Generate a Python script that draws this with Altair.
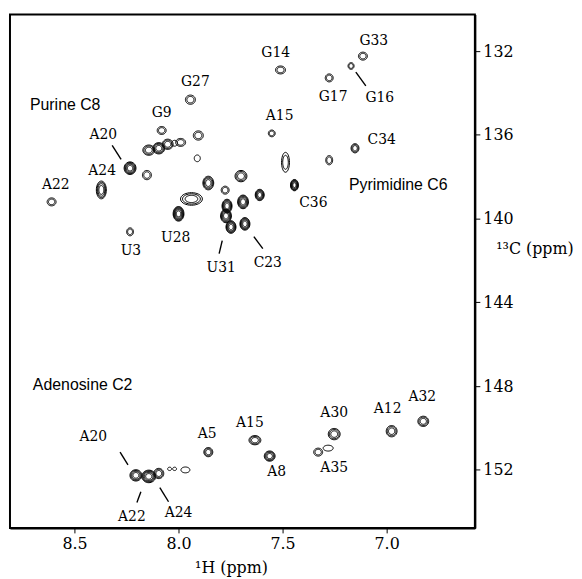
import math
import altair as alt
import pandas as pd

# ---------------- data ----------------
# cross peaks: 1H shift (ppm), 13C shift (ppm), number of contour levels,
# linewidths along 1H and 13C (ppm)
peak_h = [7.510, 7.943, 8.081, 8.143, 8.095, 8.052, 8.019, 7.990, 7.905, 7.910,
          8.233, 8.152, 8.371, 8.610, 8.233, 8.000, 7.938, 7.857, 7.776, 7.700,
          7.690, 7.610, 7.767, 7.772, 7.748, 7.681, 7.552, 7.486, 7.443, 7.114,
          7.171, 7.276, 7.152, 7.276,
          8.205, 8.143, 8.095, 8.043, 8.019, 7.967, 7.857, 7.633, 7.562, 7.252,
          7.329, 7.281, 6.976, 6.824]
peak_c = [132.90, 134.32, 135.79, 136.73, 136.64, 136.45, 136.40, 136.36, 136.03, 137.12,
          137.59, 137.92, 138.63, 139.20, 140.63, 139.77, 139.06, 138.30, 138.64, 137.97,
          139.20, 138.87, 139.40, 139.87, 140.40, 140.25, 135.93, 137.31, 138.40, 132.24,
          132.71, 133.28, 136.64, 137.21,
          152.26, 152.31, 152.17, 151.95, 151.95, 152.00, 151.15, 150.58, 151.34, 150.29,
          151.15, 150.96, 150.15, 149.68]
peak_levels = [2, 2, 2, 3, 4, 3, 1, 2, 2, 1,
               5, 2, 4, 2, 2, 6, 3, 4, 2, 3,
               5, 5, 5, 5, 5, 5, 2, 2, 6, 2,
               2, 2, 3, 2,
               4, 5, 3, 1, 1, 1, 3, 3, 4, 3,
               2, 1, 3, 3]
peak_wh = [0.048, 0.048, 0.043, 0.057, 0.057, 0.052, 0.029, 0.048, 0.048, 0.029,
           0.057, 0.043, 0.048, 0.043, 0.033, 0.052, 0.105, 0.052, 0.038, 0.057,
           0.052, 0.043, 0.048, 0.052, 0.048, 0.048, 0.033, 0.038, 0.038, 0.043,
           0.029, 0.038, 0.038, 0.033,
           0.057, 0.067, 0.048, 0.019, 0.019, 0.043, 0.043, 0.057, 0.052, 0.057,
           0.043, 0.048, 0.052, 0.052]
peak_wc = [0.38, 0.44, 0.38, 0.49, 0.54, 0.49, 0.28, 0.38, 0.44, 0.32,
           0.60, 0.44, 0.85, 0.38, 0.38, 0.70, 0.60, 0.65, 0.38, 0.54,
           0.65, 0.54, 0.65, 0.65, 0.60, 0.60, 0.32, 0.95, 0.54, 0.38,
           0.32, 0.38, 0.44, 0.44,
           0.54, 0.60, 0.49, 0.16, 0.16, 0.28, 0.44, 0.44, 0.49, 0.54,
           0.38, 0.28, 0.54, 0.49]

# residue assignments
label_text = ["G14", "G27", "G9", "A15", "A20", "A24", "A22", "U28", "U3", "U31", "C23",
              "G33", "G17", "G16", "C34", "C36",
              "A20", "A22", "A24", "A5", "A15", "A8", "A30", "A35", "A12", "A32"]
label_h = [7.533, 7.919, 8.081, 7.514, 8.362, 8.367, 8.590, 8.014, 8.229, 7.795, 7.571,
           7.062, 7.257, 7.033, 7.024, 7.352,
           8.410, 8.224, 8.000, 7.862, 7.657, 7.529, 7.252, 7.252, 6.995, 6.829]
label_c = [132.09, 133.47, 134.94, 135.08, 136.03, 137.73, 138.40, 140.91, 141.53, 142.38, 142.14,
           131.53, 134.18, 134.23, 136.27, 139.25,
           150.44, 154.23, 154.04, 150.29, 149.77, 152.09, 149.30, 151.91, 149.11, 148.54]

region_text = ["Purine C8", "Pyrimidine C6", "Adenosine C2"]
region_h = [8.714, 7.181, 8.700]
region_c = [134.56, 138.40, 147.97]

# leader lines from labels to peaks
lead_h1 = [8.319, 7.790, 7.638, 7.148, 8.281, 8.181, 8.090]
lead_c1 = [136.50, 141.05, 140.86, 133.00, 151.15, 153.04, 152.85]
lead_h2 = [8.276, 7.805, 7.595, 7.100, 8.243, 8.200, 8.048]
lead_c2 = [137.17, 141.67, 141.43, 133.66, 151.76, 153.56, 153.52]

x_ticks = [8.5, 8.0, 7.5, 7.0]
y_ticks = [132, 136, 140, 144, 148, 152]

# ---------------- layout ----------------
H_DOMAIN = [6.576, 8.81]
C_DOMAIN = [130.25, 154.77]
W, HT = 469, 518
px_h = W / (H_DOMAIN[1] - H_DOMAIN[0])
px_c = HT / (C_DOMAIN[1] - C_DOMAIN[0])


def ellipse_path(ax, ay, npts=36):
    pts = []
    for i in range(npts):
        t = 2 * math.pi * i / npts
        pts.append(f"{ax * math.cos(t):.3f} {ay * math.sin(t):.3f}")
    return "M " + " L ".join(pts) + " Z"


rows = []
for h, c, n, wh, wc in zip(peak_h, peak_c, peak_levels, peak_wh, peak_wc):
    dx, dy = wh * px_h, wc * px_c
    for k in range(n):
        f = math.sqrt(1 - k / n)
        a, b = dx * f, dy * f
        m = max(a, b)
        rows.append({"h": h, "c": c, "size": m * m, "shape": ellipse_path(a / m, b / m)})
rings_df = pd.DataFrame(rows)

labels_df = pd.DataFrame({"h": label_h, "c": label_c, "t": label_text})
regions_df = pd.DataFrame({"h": region_h, "c": region_c, "t": region_text})
leads_df = pd.DataFrame({"h": lead_h1, "c": lead_c1, "h2": lead_h2, "c2": lead_c2})

xs = alt.Scale(domain=H_DOMAIN, reverse=True, nice=False, zero=False)
ys = alt.Scale(domain=C_DOMAIN, reverse=True, nice=False, zero=False)
xaxis = alt.Axis(values=x_ticks, format=".1f", orient="bottom", title="¹H (ppm)",
                 titleX=223, titleY=40, titleBaseline="middle",
                 labelFont="DejaVu Serif", labelFontSize=16, titleFont="DejaVu Serif",
                 titleFontSize=16, titleFontWeight="normal", tickSize=5, labelPadding=3)
yaxis = alt.Axis(values=y_ticks, orient="right", title="¹³C (ppm)", titleAngle=0,
                 titleAlign="left", titleBaseline="middle", titleX=21, titleY=236,
                 labelFont="DejaVu Serif", labelFontSize=16, titleFont="DejaVu Serif",
                 titleFontSize=16, titleFontWeight="normal", tickSize=5, labelPadding=3)

X = alt.X("h:Q", scale=xs, axis=xaxis)
Y = alt.Y("c:Q", scale=ys, axis=yaxis)

rings = alt.Chart(rings_df).mark_point(filled=False, color="black", strokeWidth=1.0,
                                       opacity=1).encode(
    x=X, y=Y,
    size=alt.Size("size:Q", scale=None),
    shape=alt.Shape("shape:N", scale=None),
)

labels = alt.Chart(labels_df).mark_text(font="DejaVu Serif", fontSize=14, color="black",
                                        align="center", baseline="middle").encode(
    x=X, y=Y, text="t:N")

regions = alt.Chart(regions_df).mark_text(font="Liberation Sans", fontSize=16, color="black",
                                          align="left", baseline="middle").encode(
    x=X, y=Y, text="t:N")

leads = alt.Chart(leads_df).mark_rule(color="black", strokeWidth=1.4).encode(
    x=X, y=Y, x2="h2:Q", y2="c2:Q")

chart = alt.layer(rings, leads, labels, regions).properties(
    width=W, height=HT,
    padding={"left": 2, "top": 4, "right": 0, "bottom": 0},
    background="white",
).configure_view(stroke="black", strokeWidth=2).configure_axis(
    grid=False, domainColor="black", domainWidth=2, tickColor="black",
    labelColor="black", titleColor="black")

chart.save("out.html", embed_options={"renderer": "svg", "actions": False})
